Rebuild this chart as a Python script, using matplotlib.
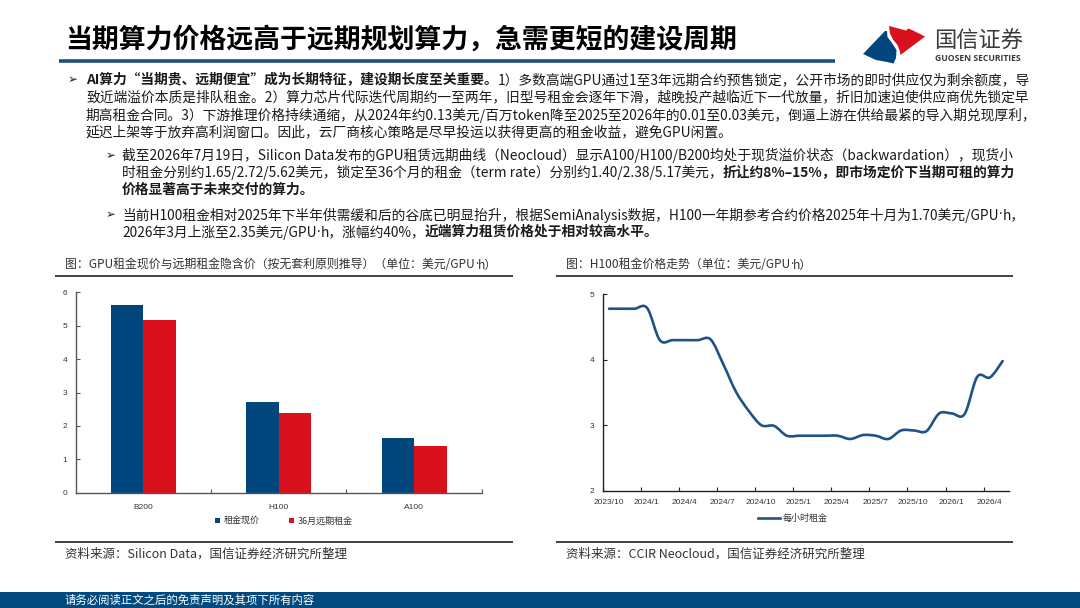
import numpy as np
import matplotlib
matplotlib.use("Agg")
import matplotlib.pyplot as plt
from matplotlib.path import Path
from matplotlib.patches import PathPatch, Polygon, Rectangle
from matplotlib.lines import Line2D

# ---- data ----
gpus = ["B200", "H100", "A100"]
spot_price = [5.62, 2.72, 1.65]       # 租金现价
term_price = [5.17, 2.38, 1.40]       # 36月远期租金

months = ["2023/10", "2023/11", "2023/12", "2024/1", "2024/2", "2024/3", "2024/4", "2024/5",
          "2024/6", "2024/7", "2024/8", "2024/9", "2024/10", "2024/11", "2024/12", "2025/1",
          "2025/2", "2025/3", "2025/4", "2025/5", "2025/6", "2025/7", "2025/8", "2025/9",
          "2025/10", "2025/11", "2025/12", "2026/1", "2026/2", "2026/3", "2026/4", "2026/5"]
h100_rent = [4.78, 4.78, 4.78, 4.79, 4.30, 4.30, 4.30, 4.30, 4.31, 3.93, 3.51, 3.22,
             3.00, 2.99, 2.84, 2.84, 2.84, 2.84, 2.84, 2.79, 2.85, 2.84, 2.79, 2.92,
             2.92, 2.91, 3.18, 3.18, 3.17, 3.74, 3.73, 3.98]

NAVY = "#01457d"
RED = "#d9101e"
LINE_BLUE = "#1f5289"
FAM = ["Noto Sans CJK SC", "DejaVu Sans"]
LATIN = ["Open Sans", "DejaVu Sans"]
TICKFAM = ["Liberation Sans", "Noto Sans CJK SC"]

W, H = 1080, 608
fig = plt.figure(figsize=(10.8, 6.08), dpi=100)
deco = fig.add_axes([0, 0, 1, 1], zorder=0)
deco.set_xlim(0, W)
deco.set_ylim(H, 0)
deco.axis("off")
renderer = fig.canvas.get_renderer()


def put_runs(x, y, parts, size=9.9, color="#1a1a1a"):
    # draw text pieces one after another; the middle dot goes in a latin font so it stays narrow
    for s, b in parts:
        bits = s.split("·")
        for k, bit in enumerate(bits):
            if k > 0:
                t = deco.text(x, y, "·", fontsize=size, fontweight="bold" if b else "normal",
                              family=LATIN, va="center", ha="left", color=color)
                x += t.get_window_extent(renderer).width
            if bit:
                t = deco.text(x, y, bit, fontsize=size, fontweight="bold" if b else "normal",
                              family=FAM, va="center", ha="left", color=color)
                x += t.get_window_extent(renderer).width
    return x


def bullet(x, y):
    deco.text(x, y, "➢", fontsize=8.5, family=FAM, va="center", ha="left", color="#1a1a1a")


# ---- header ----
deco.text(65, 40, "当期算力价格远高于远期规划算力，急需更短的建设周期", fontsize=19.4,
          fontweight="bold", family=FAM, va="center", ha="left", color="black")
deco.plot([59, 835], [60.5, 60.5], color="#1d4f80", lw=2.6, solid_capstyle="butt")

# logo (rough shapes)
deco.add_patch(Polygon([(863, 54), (885, 31), (887, 31), (887.5, 37), (892, 43),
                        (896.5, 50), (896, 58), (893.5, 63.5), (887, 62), (876, 60)],
                       closed=True, color=NAVY, lw=0))
deco.add_patch(Polygon([(889, 26), (906, 30.5), (908.5, 28.5), (913, 30.5), (925, 36.5),
                        (900.5, 55), (899.8, 51), (897.5, 45), (893, 39.5), (890, 33.5)],
                       closed=True, color=RED, lw=0))
deco.text(934, 41, "国信证券", fontsize=16, family=FAM, va="center", ha="left",
          color="#3a3a3a")
deco.text(935, 58.5, "GUOSEN SECURITIES", fontsize=6.2, fontweight="bold",
          family=LATIN, va="center", ha="left", color="#3a3a3a")

# ---- body text ----
bullet(68, 80)
put_runs(86, 80, [("AI算力“当期贵、远期便宜”成为长期特征，建设期长度至关重要。", True),
                  ("1）多数高端GPU通过1至3年远期合约预售锁定，公开市场的即时供应仅为剩余额度，导", False)])
put_runs(86, 97.5, [("致近端溢价本质是排队租金。2）算力芯片代际迭代周期约一至两年，旧型号租金会逐年下滑，越晚投产越临近下一代放量，折旧加速迫使供应商优先锁定早", False)])
put_runs(86, 115, [("期高租金合同。3）下游推理价格持续通缩，从2024年约0.13美元/百万token降至2025至2026年的0.01至0.03美元，倒逼上游在供给最紧的导入期兑现厚利，", False)])
put_runs(86, 132, [("延迟上架等于放弃高利润窗口。因此，云厂商核心策略是尽早投运以获得更高的租金收益，避免GPU闲置。", False)])

bullet(106, 155.7)
put_runs(122, 155.7, [("截至2026年7月19日，Silicon Data发布的GPU租赁远期曲线（Neocloud）显示A100/H100/B200均处于现货溢价状态（backwardation），现货小", False)])
put_runs(122, 172.5, [("时租金分别约1.65/2.72/5.62美元，锁定至36个月的租金（term rate）分别约1.40/2.38/5.17美元，", False),
                      ("折让约8%–15%，即市场定价下当期可租的算力", True)])
put_runs(122, 190, [("价格显著高于未来交付的算力。", True)])

bullet(106, 215)
put_runs(122, 215, [("当前H100租金相对2025年下半年供需缓和后的谷底已明显抬升，根据SemiAnalysis数据，H100一年期参考合约价格2025年十月为1.70美元/GPU·h，", False)])
put_runs(122, 232, [("2026年3月上涨至2.35美元/GPU·h，涨幅约40%，", False),
                    ("近端算力租赁价格处于相对较高水平。", True)])

# ---- panel frames ----
put_runs(65, 265, [("图：GPU租金现价与远期租金隐含价（按无套利原则推导）（单位：美元/GPU·h）", False)],
         size=8.6, color="#333333")
deco.plot([56, 512], [275.7, 275.7], color="#404040", lw=1.4)
deco.plot([56, 512], [542, 542], color="#404040", lw=1.4)
deco.text(65, 554, "资料来源：Silicon Data，国信证券经济研究所整理", fontsize=9.0,
          family=FAM, va="center", ha="left", color="#333333")

put_runs(566, 265, [("图：H100租金价格走势（单位：美元/GPU·h）", False)], size=8.6, color="#333333")
deco.plot([557, 1012], [275.7, 275.7], color="#404040", lw=1.4)
deco.plot([557, 1012], [542, 542], color="#404040", lw=1.4)
deco.text(566, 554, "资料来源：CCIR Neocloud，国信证券经济研究所整理", fontsize=9.0,
          family=FAM, va="center", ha="left", color="#333333")

# footer bar
deco.add_patch(Rectangle((0, 592), W, 16, color="#024a7e", lw=0))
deco.text(65, 600.5, "请务必阅读正文之后的免责声明及其项下所有内容", fontsize=8.2,
          family=FAM, va="center", ha="left", color="white")

# ---- left chart: bars ----
ax1 = fig.add_axes([75.7 / W, 1 - 492.7 / H, 406 / W, 200.4 / H])
x = np.arange(len(gpus))
bw = 0.24
ax1.bar(x - bw / 2, spot_price, bw, color=NAVY, label="租金现价")
ax1.bar(x + bw / 2, term_price, bw, color=RED, label="36月远期租金")
ax1.set_xlim(-0.5, len(gpus) - 0.5)
ax1.set_ylim(0, 6)
ax1.set_yticks(range(0, 7))
ax1.set_xticks(x)
ax1.set_xticklabels(gpus)
ax1.set_xticks(list(x + 0.5), minor=True)
for s in ["top", "right"]:
    ax1.spines[s].set_visible(False)
for s in ["left", "bottom"]:
    ax1.spines[s].set_color("#555555")
    ax1.spines[s].set_linewidth(1.0)
ax1.tick_params(axis="y", direction="in", length=3, width=0.8, color="#555555",
                labelsize=6, labelcolor="#333333", pad=6)
ax1.tick_params(axis="x", which="major", length=0, labelsize=6, labelcolor="#333333", pad=8)
ax1.tick_params(axis="x", which="minor", direction="in", length=3, width=0.8, color="#555555")
for lab in ax1.get_xticklabels() + ax1.get_yticklabels():
    lab.set_family(TICKFAM)
leg1 = ax1.legend(loc="center", bbox_to_anchor=(284 / W, 1 - 521 / H),
                  bbox_transform=fig.transFigure, ncol=2, frameon=False,
                  handlelength=0.6, handleheight=0.6, handletextpad=0.4,
                  columnspacing=3.2, prop={"family": FAM, "size": 6.5})
for t in leg1.get_texts():
    t.set_color("#333333")

# ---- right chart: smoothed line ----
ax2 = fig.add_axes([602.7 / W, 1 - 490.7 / H, 406.3 / W, 196.4 / H])
xs = np.arange(len(months)) + 0.5
ys = np.array(h100_rent)
# Catmull-Rom style smooth curve through the monthly points (like an Excel smoothed line)
pts = np.column_stack([xs, ys])
verts = [pts[0]]
codes = [Path.MOVETO]
for i in range(len(pts) - 1):
    p0 = pts[max(i - 1, 0)]
    p1 = pts[i]
    p2 = pts[i + 1]
    p3 = pts[min(i + 2, len(pts) - 1)]
    c1 = p1 + (p2 - p0) / 6.0
    c2 = p2 - (p3 - p1) / 6.0
    verts += [c1, c2, p2]
    codes += [Path.CURVE4] * 3
ax2.add_patch(PathPatch(Path(verts, codes), fill=False, edgecolor=LINE_BLUE, lw=1.9,
                        capstyle="round", joinstyle="round"))
ax2.set_xlim(0, len(months))
ax2.set_ylim(2, 5)
ax2.set_yticks([2, 3, 4, 5])
tick_pos = np.arange(0, len(months) - 1, 3)
ax2.set_xticks(tick_pos)
ax2.set_xticklabels([])
ax2.set_xticks(tick_pos + 0.45, minor=True)
ax2.set_xticklabels([months[i] for i in tick_pos], minor=True)
for s in ["top", "right"]:
    ax2.spines[s].set_visible(False)
for s in ["left", "bottom"]:
    ax2.spines[s].set_color("#222222")
    ax2.spines[s].set_linewidth(1.0)
ax2.tick_params(axis="y", direction="in", length=3, width=0.8, color="#222222",
                labelsize=6, labelcolor="#333333", pad=6)
ax2.tick_params(axis="x", which="major", direction="in", length=3, width=0.8, color="#222222")
ax2.tick_params(axis="x", which="minor", length=0, labelsize=6, labelcolor="#333333", pad=6)
for lab in ax2.get_xticklabels(minor=True) + ax2.get_yticklabels():
    lab.set_family(TICKFAM)
leg2 = ax2.legend([Line2D([0], [0], color=LINE_BLUE, lw=1.9)], ["每小时租金"],
                  loc="center", bbox_to_anchor=(793 / W, 1 - 518.7 / H),
                  bbox_transform=fig.transFigure, frameon=False, handlelength=2.4,
                  handletextpad=0.3, prop={"family": FAM, "size": 6.5})
for t in leg2.get_texts():
    t.set_color("#333333")

fig.savefig("out.png", dpi=100)
